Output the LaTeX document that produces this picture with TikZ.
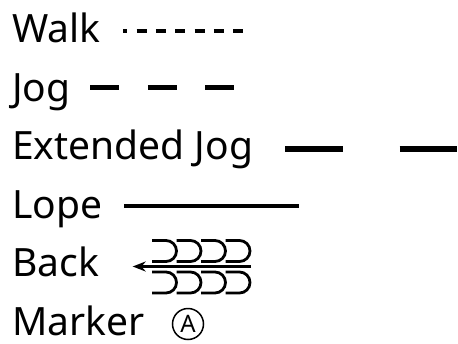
\documentclass[tikz,border=0pt]{standalone}
\usepackage{fontspec}
\setmainfont{Noto Sans}
\usetikzlibrary{arrows.meta}

\begin{document}
\begin{tikzpicture}[x=1pt,y=-1pt,>={Stealth[length=13pt,width=10pt]},
    lbl/.style={anchor=base west,inner sep=0pt,font=\fontsize{39}{41}\selectfont},
    gait/.style={line width=4pt}]
    \useasboundingbox (0,0) rectangle (458,343);
    \node[lbl] (walk) at (12,42.5) {Walk};
    \node[lbl] (jog) at (12,101) {Jog};
    \node[lbl] (ext) at (12,159.5) {Extended Jog};
    \node[lbl] (lope) at (12,218) {Lope};
    \node[lbl] (back) at (12,276.5) {Back};
    \node[lbl] (marker) at (12,335) {Marker};
    \coordinate (walkA) at (123.3,31);
    \coordinate (walkB) at (243.3,31);
    \coordinate (jogA) at (90.3,87.5);
    \coordinate (jogB) at (234.3,87.5);
    \coordinate (extA) at (285,149);
    \coordinate (extB) at (457.4,149);
    \coordinate (lopeA) at (124,205.7);
    \coordinate (lopeB) at (299,205.7);
    \coordinate (backA) at (132.7,266.5);
    \coordinate (backB) at (251,266.5);
    \draw[gait,dash pattern=on 10pt off 9.33pt,dash phase=6pt] (walkA) -- (walkB);
    \draw[gait,line width=5pt,dash pattern=on 29pt off 28.5pt] (jogA) -- (jogB);
    \draw[gait,line width=5.5pt,dash pattern=on 57.7pt off 57pt] (extA) -- (extB);
    \draw[gait] (lopeA) -- (lopeB);
    \draw[->,line width=3pt] (backB) -- (backA);
    \foreach \i in {0,...,3} {
        \draw[line width=2.8pt] (152+24.5*\i,240.5) -- ++(14,0)
            arc[start angle=-90,end angle=90,radius=10.5] -- ++(-14,0);
        \draw[line width=2.8pt] (152+24.5*\i,272) -- ++(14,0)
            arc[start angle=-90,end angle=90,radius=10.5] -- ++(-14,0);
    }
    \node[draw,circle,line width=1.5pt,minimum size=31pt,inner sep=0pt,
        font=\fontsize{24}{26}\selectfont] (mark) at (188,324) {A};
\end{tikzpicture}
\end{document}
